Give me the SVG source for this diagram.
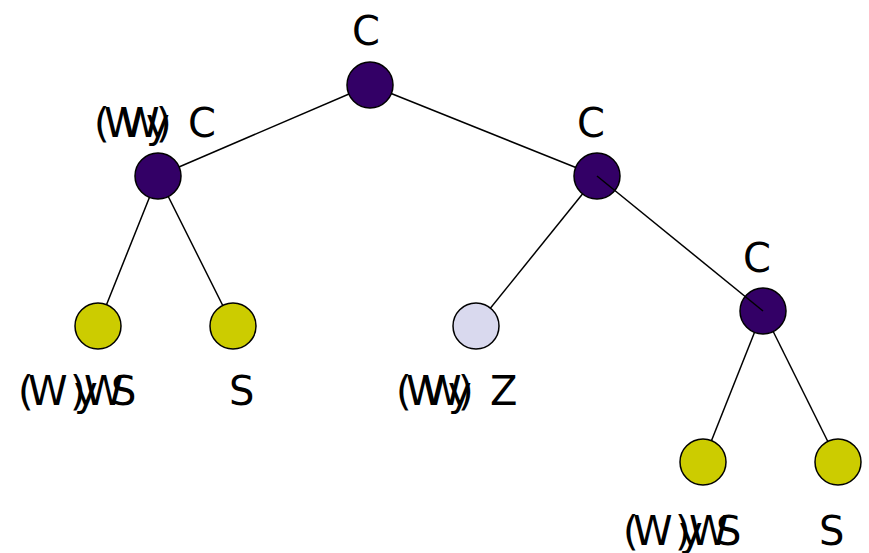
<svg xmlns="http://www.w3.org/2000/svg" width="869" height="553" viewBox="0 0 869 553">
<style>
.t{font-family:"DejaVu Sans",sans-serif;font-size:40px;fill:#000}
.e{stroke:#000;stroke-width:1.5;fill:none}
.p{fill:#330066;stroke:#000;stroke-width:1.5}
.y{fill:#cccc00;stroke:#000;stroke-width:1.5}
.l{fill:#d9d9ee;stroke:#000;stroke-width:1.5}
</style>
<rect width="869" height="553" fill="#fff"/>
<g id="connectors">
<line class="e" x1="370" y1="85" x2="158" y2="176"/>
<line class="e" x1="370" y1="85" x2="597" y2="176"/>
<line class="e" x1="158" y1="176" x2="98" y2="326"/>
<line class="e" x1="158" y1="176" x2="233" y2="326"/>
<line class="e" x1="597" y1="176" x2="476" y2="326"/>
<line class="e" x1="763" y1="311" x2="703" y2="462"/>
<line class="e" x1="763" y1="311" x2="838" y2="462"/>
</g>
<g id="root"><circle class="p" cx="370" cy="85" r="23"/><text class="t" x="352" y="45">C</text></g>
<g id="left"><circle class="p" cx="158" cy="176" r="23"/><text class="t" y="137" x="94 104 120 146 156 188">(WWy)C</text></g>
<g id="right"><circle class="p" cx="597" cy="176" r="23"/><text class="t" x="577" y="137">C</text></g>
<g id="rr"><circle class="p" cx="763" cy="311" r="23"/><text class="t" x="743" y="272">C</text></g>
<g id="ll"><circle class="y" cx="98" cy="326" r="23"/><text class="t" y="405" x="18 28 70 74 84 111">(W)yWS</text></g>
<g id="lr"><circle class="y" cx="233" cy="326" r="23"/><text class="t" x="229" y="405">S</text></g>
<g id="mid"><circle class="l" cx="476" cy="326" r="23"/><text class="t" y="405" x="396 406 422 448 458 490">(WWy)Z</text></g>
<g id="rrl"><circle class="y" cx="703" cy="462" r="23"/><text class="t" y="545" x="623 633 675 679 689 716">(W)yWS</text></g>
<g id="rrr"><circle class="y" cx="838" cy="462" r="23"/><text class="t" x="819" y="545">S</text></g>
<line class="e" x1="597" y1="176" x2="763" y2="311"/>
</svg>
